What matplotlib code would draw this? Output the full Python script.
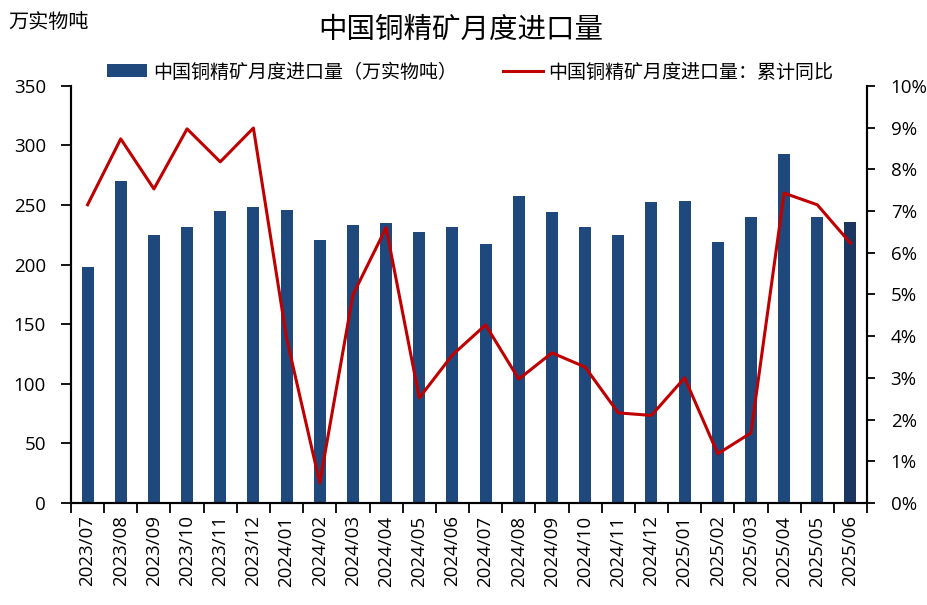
"""China copper concentrate monthly imports"""
import numpy as np
import matplotlib
matplotlib.use('Agg')
import matplotlib.pyplot as plt
from matplotlib.ticker import PercentFormatter

plt.rcParams['font.family'] = ['Noto Sans CJK SC', 'DejaVu Sans']

# ============== DATA ==============
MONTHS = ['2023/07', '2023/08', '2023/09', '2023/10', '2023/11', '2023/12',
          '2024/01', '2024/02', '2024/03', '2024/04', '2024/05', '2024/06',
          '2024/07', '2024/08', '2024/09', '2024/10', '2024/11', '2024/12',
          '2025/01', '2025/02', '2025/03', '2025/04', '2025/05', '2025/06']
# monthly imports (10k physical tonnes)
IMPORTS = [198, 270, 225, 231.5, 245, 248.5,
           246, 221, 233, 235, 227, 231.5,
           217.5, 258, 244, 231.5, 225, 253,
           253.5, 219, 240, 293, 240, 236]
# cumulative YoY (%)
YOY = [7.15, 8.73, 7.53, 8.97, 8.18, 8.99,
       3.95, 0.48, 4.99, 6.60, 2.52, 3.55,
       4.27, 2.97, 3.60, 3.26, 2.16, 2.10,
       3.00, 1.18, 1.68, 7.43, 7.15, 6.23]
# ==================================

BAR_COLOR = '#1F497D'
LAST_BAR_COLOR = '#1B3761'
LINE_COLOR = '#C00000'
TICK_FONT = 'Open Sans'
TICK_SIZE = 13.5

fig = plt.figure(figsize=(9.28, 6.05), dpi=100)
ax = fig.add_axes([0.0765, 0.1686, 0.8578, 0.6894])
ax2 = ax.twinx()

x = np.arange(len(MONTHS))
colors = [BAR_COLOR] * (len(MONTHS) - 1) + [LAST_BAR_COLOR]
bars = ax.bar(x, IMPORTS, width=0.36, color=colors, zorder=2,
              label='中国铜精矿月度进口量（万实物吨）')
line, = ax2.plot(x, YOY, color=LINE_COLOR, lw=2.2, zorder=3,
                 label='中国铜精矿月度进口量：累计同比')

ax.set_xlim(-0.5, len(MONTHS) - 0.5)
ax.set_ylim(0, 350)
ax.set_yticks(np.arange(0, 351, 50))
ax2.set_ylim(0, 10)
ax2.set_yticks(np.arange(0, 11, 1))
ax2.yaxis.set_major_formatter(PercentFormatter(decimals=0))

# ticks at category boundaries, labels at centres
ax.set_xticks(np.arange(-0.5, len(MONTHS), 1))
ax.set_xticklabels([])
ax.set_xticks(x, minor=True)
ax.set_xticklabels(MONTHS, minor=True, rotation=90)
ax.tick_params(axis='x', which='major', length=7, width=1.3, direction='out')
ax.tick_params(axis='x', which='minor', length=0, pad=9)
ax.tick_params(axis='y', length=7, width=1.3, direction='out', pad=11)
ax2.tick_params(axis='y', length=6, width=1.3, direction='out', pad=11)

for lbl in (ax.get_xticklabels(minor=True) + ax.get_yticklabels()
            + ax2.get_yticklabels()):
    lbl.set_fontfamily(TICK_FONT)
    lbl.set_fontsize(TICK_SIZE)

for a in (ax, ax2):
    a.spines['top'].set_visible(False)
    for s in ('left', 'right', 'bottom'):
        a.spines[s].set_linewidth(1.5)
        a.spines[s].set_color('black')

ax.set_zorder(ax2.get_zorder() - 1)
ax.patch.set_visible(False)

fig.text(0.497, 0.95, '中国铜精矿月度进口量', ha='center', va='center', fontsize=20.5)
fig.text(0.009, 0.963, '万实物吨', ha='left', va='center', fontsize=14.5)

fig.legend(handles=[bars, line], loc='center', bbox_to_anchor=(0.507, 0.881),
           ncol=2, frameon=False, fontsize=13.7, handlelength=2.1,
           columnspacing=2.4, handletextpad=0.3)

fig.savefig('out.png', dpi=100)
